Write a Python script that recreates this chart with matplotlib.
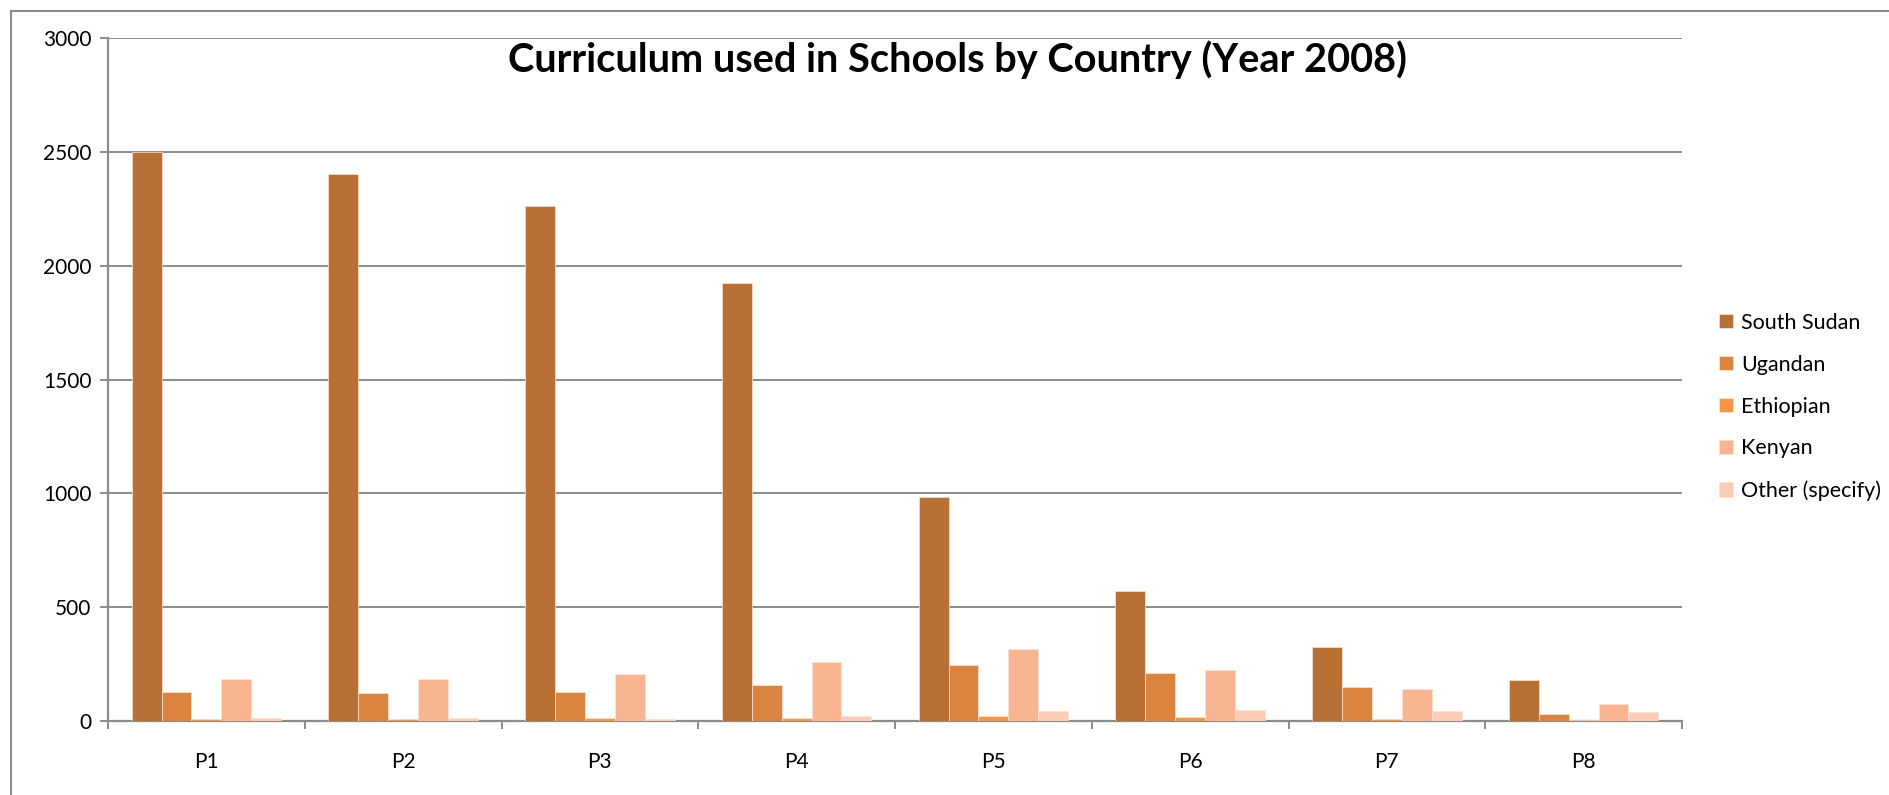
import matplotlib.pyplot as plt
import numpy as np
from matplotlib.lines import Line2D

# data
grades = ["P1", "P2", "P3", "P4", "P5", "P6", "P7", "P8"]
south_sudan = [2500, 2404, 2263, 1924, 986, 569, 325, 179]
ugandan = [127, 124, 127, 160, 246, 210, 148, 32]
ethiopian = [10, 9, 13, 15, 23, 19, 10, 6]
kenyan = [183, 184, 206, 261, 315, 225, 141, 76]
other = [13, 13, 10, 23, 45, 47, 45, 41]

series = [south_sudan, ugandan, ethiopian, kenyan, other]
names = ["South Sudan", "Ugandan", "Ethiopian", "Kenyan", "Other (specify)"]
colors = ["#b97034", "#db8440", "#f79646", "#f9b591", "#fccdb6"]

plt.rcParams['font.family'] = ['Lato', 'DejaVu Sans']

fig = plt.figure(figsize=(18.89, 7.95), dpi=100)
ax = fig.add_axes([108 / 1889, 1 - 721 / 795, (1682 - 108) / 1889, (721 - 38) / 795])

x = np.arange(len(grades))
w = 0.152
for i, (vals, name, c) in enumerate(zip(series, names, colors)):
    ax.bar(x + (i - 2) * w, vals, width=w, color=c, edgecolor='#fbe3d6',
           linewidth=0.5, label=name, zorder=3)

ax.set_xlim(-0.5, len(grades) - 0.5)
ax.set_ylim(0, 3000)
ax.set_yticks(range(0, 3001, 500))
ax.yaxis.grid(True, color='#8c8c8c', linewidth=1.4, zorder=0)

ax.set_xticks(x)
ax.set_xticklabels(grades)
ax.set_xticks(np.arange(-0.5, len(grades), 1), minor=True)
ax.tick_params(axis='x', which='major', length=0, pad=22, labelsize=15)
ax.tick_params(axis='x', which='minor', length=6, width=1.4, color='#8c8c8c')
ax.tick_params(axis='y', length=6, width=1.4, color='#8c8c8c', labelsize=15, pad=6)

for s in ['top', 'right']:
    ax.spines[s].set_visible(False)
for s in ['left', 'bottom']:
    ax.spines[s].set_color('#8c8c8c')
    ax.spines[s].set_linewidth(1.6)

fig.text(958 / 1889, 1 - 60 / 795, "Curriculum used in Schools by Country (Year 2008)",
         ha='center', va='center', fontsize=28.6, fontweight='bold')

leg = fig.legend(loc='upper left', bbox_to_anchor=(1710 / 1889, 1 - 304 / 795),
                 frameon=False, fontsize=15.5, handlelength=0.65, handleheight=0.65,
                 handletextpad=0.4, labelspacing=1.02, borderaxespad=0)

# outer chart border
fig.add_artist(Line2D([10.5 / 1889, 10.5 / 1889], [0, 1 - 10.5 / 795],
                      color='#8c8c8c', linewidth=1.5))
fig.add_artist(Line2D([10.5 / 1889, 1], [1 - 10.5 / 795, 1 - 10.5 / 795],
                      color='#8c8c8c', linewidth=1.5))

fig.savefig("out.png", dpi=100)
